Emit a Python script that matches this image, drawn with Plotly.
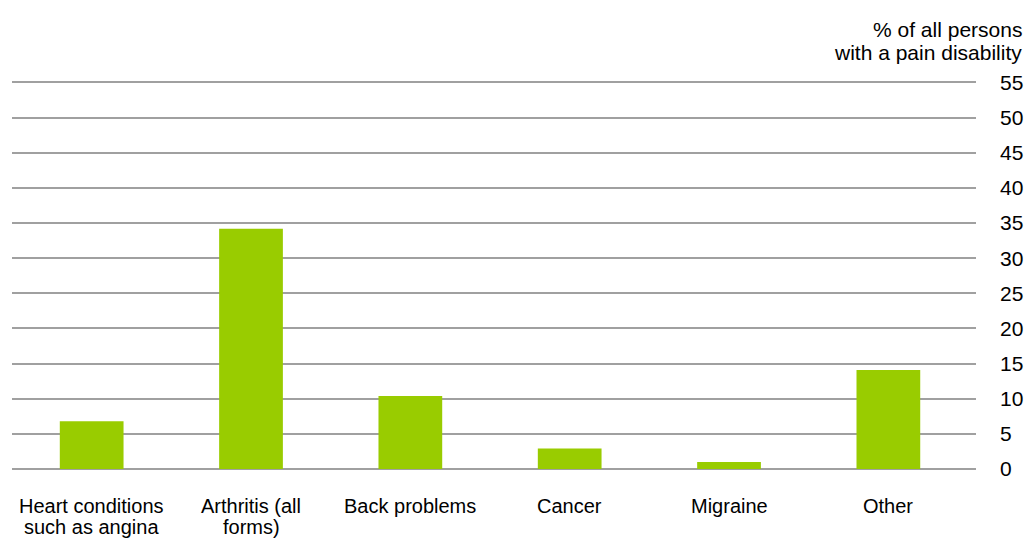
import plotly.graph_objects as go

categories = ["Heart conditions\nsuch as angina", "Arthritis (all\nforms)", "Back problems",
              "Cancer", "Migraine", "Other"]
values = [6.8, 34.2, 10.4, 2.9, 1.0, 14.1]
y_ticks = list(range(0, 60, 5))
title_lines = ["% of all persons", "with a pain disability"]

FONT = "Liberation Sans, Arial, sans-serif"
x_idx = list(range(len(categories)))

fig = go.Figure(go.Bar(
    x=x_idx, y=values,
    marker=dict(color="#99CC00", line=dict(width=0)),
    width=0.4,
))

fig.update_layout(
    width=1025, height=531,
    margin=dict(l=4, r=57, t=73, b=70, autoexpand=False),
    paper_bgcolor="white", plot_bgcolor="white",
    font=dict(family=FONT, size=21, color="black"),
    showlegend=False,
)
fig.update_xaxes(
    range=[-0.5, 5.55], showgrid=False, showline=False, ticks="",
    showticklabels=False, zeroline=False, automargin=False,
)
fig.update_yaxes(
    side="right", range=[0, 55.21], tickvals=y_ticks,
    showgrid=True, gridcolor="#A0A0A0", gridwidth=2,
    zeroline=True, zerolinecolor="#A0A0A0", zerolinewidth=2,
    showline=False, ticks="", ticklabelstandoff=23,
    tickfont=dict(size=21), automargin=False,
)

# category labels (each line placed on the category axis)
for i, cat in enumerate(categories):
    for j, line in enumerate(cat.split("\n")):
        fig.add_annotation(
            x=i, xref="x", y=0, yref="paper", yshift=-37 - 21 * j,
            xanchor="center", yanchor="middle", showarrow=False,
            text=line, font=dict(family=FONT, size=20, color="black"),
        )

for j, line in enumerate(title_lines):
    fig.add_annotation(
        xref="paper", yref="paper", x=1.0, y=1.0, xshift=48,
        yshift=(81 - 29) - 23 * j,
        xanchor="right", yanchor="middle", showarrow=False,
        text=line, font=dict(family=FONT, size=21, color="black"),
    )

fig.write_html("out.html")
